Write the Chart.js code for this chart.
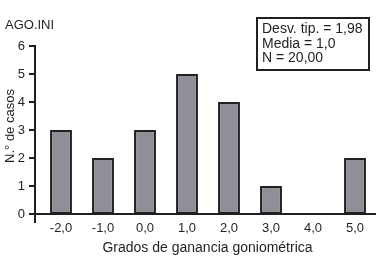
<!DOCTYPE html>
<html><head><meta charset="utf-8">
<script src="https://cdn.jsdelivr.net/npm/chart.js@4"></script>
<style>html,body{margin:0;padding:0;background:#fff}#w{width:380px;height:258px}</style>
</head><body><div id="w"><canvas id="c" width="380" height="258"></canvas></div>
<script>
const categories = ["-2,0","-1,0","0,0","1,0","2,0","3,0","4,0","5,0"];
const counts = [3,2,3,5,4,1,0,2];
const yTicks = [0,1,2,3,4,5,6];
const chartTitle = "AGO.INI";
const statsLines = ["Desv. tip. = 1,98","Media = 1,0","N = 20,00"];
const xTitle = "Grados de ganancia goniométrica";
const yTitle = "N.° de casos";

const ink = "#231f20";
const font = "'Liberation Sans', Arial, sans-serif";

const deco = {
  id: 'deco',
  afterDraw(chart) {
    const ctx = chart.ctx, ys = chart.scales.y, ca = chart.chartArea;
    const ax = ca.left - 5;
    ctx.save();
    ctx.strokeStyle = ink; ctx.lineWidth = 2;
    ctx.beginPath();
    ctx.moveTo(ax, ys.getPixelForValue(6) - 1);
    ctx.lineTo(ax, ys.getPixelForValue(0) + 9);
    ctx.stroke();
    ctx.beginPath();
    yTicks.forEach(v => {
      const y = ys.getPixelForValue(v);
      ctx.moveTo(ax - 6, y); ctx.lineTo(ax, y);
    });
    ctx.stroke();
    ctx.beginPath();
    ctx.moveTo(ax, ys.getPixelForValue(0));
    ctx.lineTo(ca.right, ys.getPixelForValue(0));
    ctx.stroke();
    ctx.fillStyle = ink;
    // axis titles
    ctx.font = "14px " + font;
    ctx.textAlign = "center"; ctx.textBaseline = "middle";
    ctx.fillText(xTitle, (ax + ca.right) / 2 + 2, 248);
    ctx.save();
    ctx.translate(10, 126);
    ctx.rotate(-Math.PI / 2);
    ctx.font = "13px " + font;
    ctx.fillText(yTitle, 0, 0);
    ctx.restore();
    // title
    ctx.font = "13px " + font;
    ctx.textBaseline = "alphabetic"; ctx.textAlign = "left";
    ctx.fillText(chartTitle, 5, 29);
    // stats box
    ctx.font = "14px " + font;
    ctx.lineWidth = 2;
    ctx.strokeRect(257, 18, 112, 52);
    statsLines.forEach((t, i) => ctx.fillText(t, 262, 33 + i * 14.5));
    ctx.restore();
  }
};

new Chart(document.getElementById('c'), {
  type: 'bar',
  data: { labels: categories, datasets: [{
    data: counts, backgroundColor: "#8f8f97", borderColor: ink, borderWidth: 2,
    borderSkipped: false, categoryPercentage: 1, barPercentage: 0.52
  }]},
  options: {
    responsive: false, animation: false,
    layout: { padding: { top: 46, right: 4, left: 0, bottom: 0 } },
    plugins: { legend: { display: false }, tooltip: { enabled: false } },
    scales: {
      x: {
        grid: { display: false, drawTicks: false }, border: { display: false },
        ticks: { color: ink, font: { family: font, size: 13 }, padding: 7 },
        afterFit(s) { s.height = 44; }
      },
      y: {
        min: 0, max: 6,
        grid: { display: false, drawTicks: false }, border: { display: false },
        ticks: { stepSize: 1, color: ink, font: { family: font, size: 13 }, padding: 15 },
        afterFit(s) { s.width = 40; }
      }
    }
  },
  plugins: [deco]
});
</script></body></html>
